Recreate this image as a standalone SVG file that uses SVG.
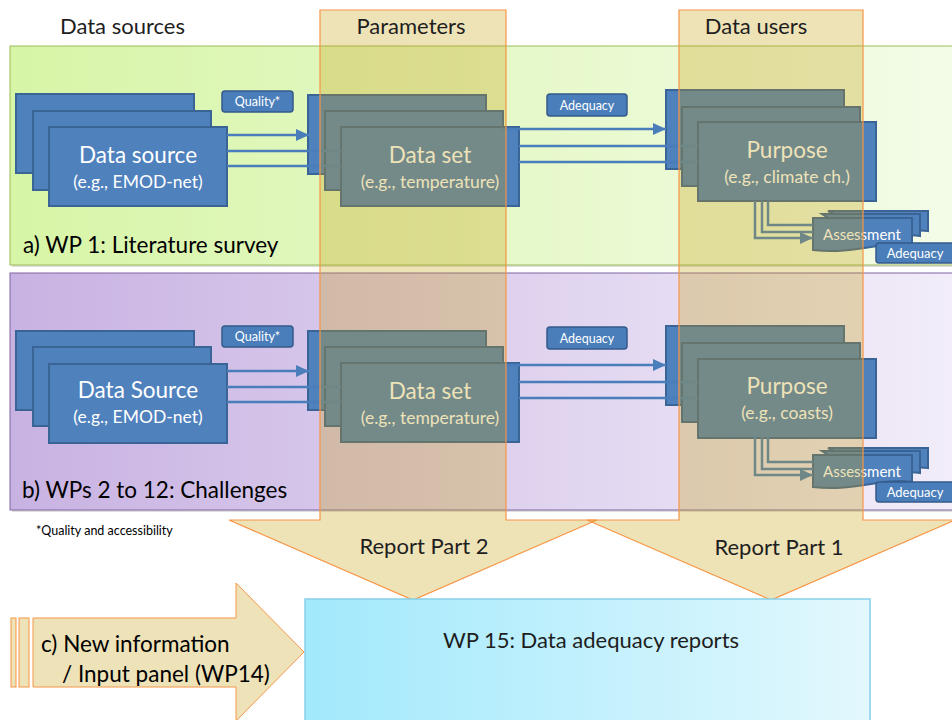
<svg xmlns="http://www.w3.org/2000/svg" width="952" height="720" viewBox="0 0 952 720">
<defs>
<style>
text{font-family:Lato,'Liberation Sans',sans-serif}
.box{fill:#4f81bd;stroke:#3b6496;stroke-width:2}
.lbl{fill:#4a7ebb;stroke:#345a8a;stroke-width:1.5}
.wt{fill:#ffffff;text-anchor:middle}
.big{font-size:22.5px}
.sub{font-size:17.5px}
.sm{font-size:12.5px}
.con{stroke:#4a7ebb;stroke-width:2.5;fill:none}
.ovl{fill:#c69e12;fill-opacity:0.3;stroke:#f79646;stroke-width:1.2}
.hd{font-size:22px;fill:#1e1e1e}
.doc{fill:#4f81bd;stroke:#3b6496;stroke-width:2}
</style>
<linearGradient id="gGreen" x1="0" y1="0" x2="1" y2="0">
<stop offset="0" stop-color="#d7f5a6"/>
<stop offset="1" stop-color="#f3fce8"/>
</linearGradient>
<linearGradient id="gPurple" x1="0" y1="0" x2="1" y2="0">
<stop offset="0" stop-color="#c8b2e2"/>
<stop offset="1" stop-color="#f2edf9"/>
</linearGradient>
<linearGradient id="gCyan" x1="0" y1="0" x2="1" y2="0">
<stop offset="0" stop-color="#a2e9fc"/>
<stop offset="1" stop-color="#e2f8fd"/>
</linearGradient>
<marker id="ah" viewBox="0 0 13 12" refX="13" refY="6" markerWidth="13" markerHeight="12" markerUnits="userSpaceOnUse" orient="auto">
<path d="M0,0 L13,6 L0,12 Z" fill="#4a7ebb"/>
</marker>
<g id="assess">
<path class="doc" d="M828,211 H928 V231 C910,228 890,236 870,233 Z"/>
<path class="doc" d="M822,214 H920 V236 C900,232 880,242 860,238 Z"/>
<path class="doc" d="M813,218 H912 V245 C885,240 855,255 813,250 Z"/>
</g>
</defs>
<rect width="952" height="720" fill="#ffffff"/>

<g id="panel-a">
<rect x="12" y="48" width="945" height="219" fill="#c8c8c8" opacity="0.6"/>
<rect x="10" y="46" width="945" height="219" fill="url(#gGreen)" stroke="#9bbb59" stroke-width="1"/>
<text x="23" y="253" font-size="22.5" fill="#000">a) WP 1: Literature survey</text>
</g>
<g id="panel-b">
<rect x="12" y="275" width="945" height="237" fill="#c8c8c8" opacity="0.6"/>
<rect x="10" y="273" width="945" height="237" fill="url(#gPurple)" stroke="#8064a2" stroke-width="1"/>
<text x="22" y="498" font-size="22.5" fill="#000">b) WPs 2 to 12: Challenges</text>
</g>

<g id="source-a">
<rect class="box" x="16" y="94" width="178" height="79"/>
<rect class="box" x="33" y="111" width="178" height="79"/>
<rect class="box" x="49" y="127" width="178" height="79"/>
<text class="wt big" x="138" y="163">Data source</text>
<text class="wt sub" x="138" y="188">(e.g., EMOD-net)</text>
</g>
<g id="quality-a">
<rect class="lbl" x="222" y="91" width="71" height="21" rx="3"/>
<text class="wt sm" x="257.5" y="106">Quality*</text>
</g>
<g id="dataset-a">
<rect class="box" x="308" y="95" width="178" height="79"/>
<rect class="box" x="325" y="111" width="178" height="79"/>
<rect class="box" x="341" y="127" width="178" height="79"/>
<text class="wt big" x="430" y="163">Data set</text>
<text class="wt sub" x="430" y="188">(e.g., temperature)</text>
</g>
<g id="adequacy-a">
<rect class="lbl" x="547" y="94" width="80" height="22" rx="3"/>
<text class="wt sm" x="587" y="110">Adequacy</text>
</g>
<g id="purpose-a">
<rect class="box" x="666" y="90" width="178" height="79"/>
<rect class="box" x="682" y="107" width="178" height="79"/>
<rect class="box" x="698" y="122" width="178" height="79"/>
<text class="wt big" x="787" y="158">Purpose</text>
<text class="wt sub" x="787" y="183">(e.g., climate ch.)</text>
</g>
<g id="assessment-a">
<use href="#assess"/>
<text class="wt" x="862" y="240" font-size="15">Assessment</text>
</g>
<g id="adequacy2-a">
<rect class="lbl" x="876" y="243" width="80" height="20" rx="3"/>
<text class="wt" x="915" y="258" font-size="13">Adequacy</text>
</g>

<g id="source-b">
<rect class="box" x="16" y="331" width="178" height="79"/>
<rect class="box" x="33" y="347" width="178" height="79"/>
<rect class="box" x="49" y="364" width="178" height="79"/>
<text class="wt big" x="138" y="398">Data Source</text>
<text class="wt sub" x="138" y="423">(e.g., EMOD-net)</text>
</g>
<g id="quality-b">
<rect class="lbl" x="222" y="326" width="71" height="21" rx="3"/>
<text class="wt sm" x="257.5" y="341">Quality*</text>
</g>
<g id="dataset-b">
<rect class="box" x="308" y="331" width="178" height="79"/>
<rect class="box" x="325" y="347" width="178" height="79"/>
<rect class="box" x="341" y="363" width="178" height="79"/>
<text class="wt big" x="430" y="399">Data set</text>
<text class="wt sub" x="430" y="424">(e.g., temperature)</text>
</g>
<g id="adequacy-b">
<rect class="lbl" x="547" y="327" width="80" height="22" rx="3"/>
<text class="wt sm" x="587" y="343">Adequacy</text>
</g>
<g id="purpose-b">
<rect class="box" x="666" y="326" width="178" height="79"/>
<rect class="box" x="682" y="343" width="178" height="79"/>
<rect class="box" x="698" y="359" width="178" height="79"/>
<text class="wt big" x="787" y="394">Purpose</text>
<text class="wt sub" x="787" y="419">(e.g., coasts)</text>
</g>
<g id="assessment-b">
<use href="#assess" transform="translate(0,237)"/>
<text class="wt" x="862" y="477" font-size="15">Assessment</text>
</g>
<g id="adequacy2-b">
<rect class="lbl" x="876" y="482" width="80" height="20" rx="3"/>
<text class="wt" x="915" y="497" font-size="13">Adequacy</text>
</g>

<g id="connectors">
<g id="conn-a">
<path class="con" d="M227,135 H309" marker-end="url(#ah)"/>
<path class="con" d="M227,151 H341"/>
<path class="con" d="M227,166 H341"/>
<path class="con" d="M500,129 H666" marker-end="url(#ah)"/>
<path class="con" d="M519,146 H698"/>
<path class="con" d="M519,162 H698"/>
<path class="con" d="M755,201 V238 H813" marker-end="url(#ah)"/>
<path class="con" d="M762,201 V232 H813"/>
<path class="con" d="M768,201 V225 H813"/>
</g>
<g id="conn-b" transform="translate(0,236)">
<path class="con" d="M227,135 H309" marker-end="url(#ah)"/>
<path class="con" d="M227,151 H341"/>
<path class="con" d="M227,166 H341"/>
<path class="con" d="M500,129 H666" marker-end="url(#ah)"/>
<path class="con" d="M519,146 H698"/>
<path class="con" d="M519,162 H698"/>
<path class="con" d="M755,201 V239 H813" marker-end="url(#ah)"/>
<path class="con" d="M762,201 V233 H813"/>
<path class="con" d="M768,201 V226 H813"/>
</g>
</g>

<g id="parameters-arrow">
<path class="ovl" d="M320,10 H506 V520 H597 L413,600 L229,520 H320 Z"/>
<text class="hd" x="411" y="34" text-anchor="middle">Parameters</text>
<text class="hd" x="424" y="554" text-anchor="middle">Report Part 2</text>
</g>
<g id="users-arrow">
<path class="ovl" d="M679,10 H863 V520 H955 L771,600 L587,520 H679 Z"/>
<text class="hd" x="756" y="34" text-anchor="middle">Data users</text>
<text class="hd" x="779" y="555" text-anchor="middle">Report Part 1</text>
</g>
<g id="sources-header">
<text class="hd" x="60" y="34" fill="#000">Data sources</text>
</g>
<g id="footnote">
<text x="36" y="535" font-size="12.5" fill="#000">*Quality and accessibility</text>
</g>

<g id="wp15">
<rect x="305" y="599" width="565" height="130" fill="url(#gCyan)" stroke="#86cfe8" stroke-width="1.5"/>
<text class="hd" x="591" y="648" text-anchor="middle" fill="#000" font-size="22.5">WP 15: Data adequacy reports</text>
</g>
<g id="input-arrow">
<rect x="11" y="618" width="5" height="69" fill="#eee2b8" stroke="#f79646" stroke-width="1"/>
<rect x="19" y="618" width="10" height="69" fill="#eee2b8" stroke="#f79646" stroke-width="1"/>
<path d="M33,618 H236 V583 L304,652 L236,721 V687 H33 Z" fill="#eee2b8" stroke="#f79646" stroke-width="1"/>
<text x="41" y="652" font-size="22.5" fill="#000">c) New information</text>
<text x="62" y="682" font-size="22.5" fill="#000">/ Input panel (WP14)</text>
</g>
</svg>
